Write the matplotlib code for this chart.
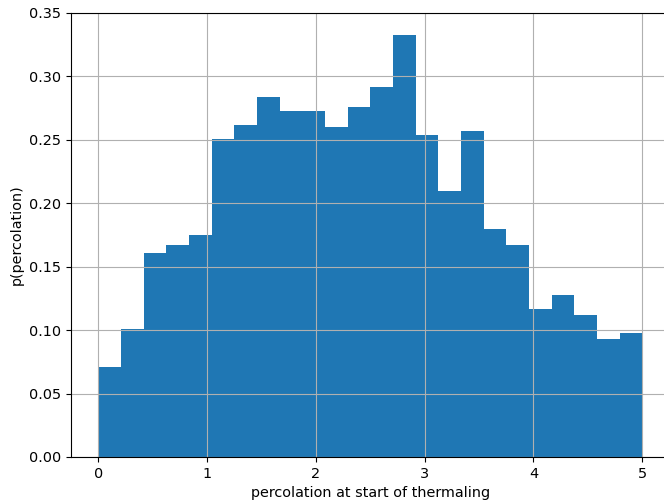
import numpy as np
import matplotlib
matplotlib.use('Agg')
import matplotlib.pyplot as plt

# histogram bin edges and heights
edges = np.linspace(0, 5, 25)
heights = [0.071, 0.101, 0.161, 0.167, 0.175, 0.251, 0.262, 0.284,
           0.273, 0.273, 0.260, 0.276, 0.292, 0.333, 0.254, 0.210,
           0.257, 0.180, 0.167, 0.117, 0.128, 0.112, 0.093, 0.098]

plt.rcParams['font.size'] = 10.4

fig = plt.figure(figsize=(6.64, 5.03), dpi=100)
ax = fig.add_axes([71/664, 46/503, 598.4/664, 444/503])

ax.bar(edges[:-1], heights, width=np.diff(edges), align='edge', color='#1f77b4')
ax.set_xlim(-0.25, 5.25)
ax.set_ylim(0, 0.35)
ax.set_xticks([0, 1, 2, 3, 4, 5])
ax.set_xticklabels(['0', '1', '2', '3', '4', '5'])
ax.set_yticks(np.arange(0, 0.351, 0.05))
ax.grid(True)
ax.set_xlabel('percolation at start of thermaling')
ax.set_ylabel('p(percolation)')

fig.savefig('out.png', dpi=100)
